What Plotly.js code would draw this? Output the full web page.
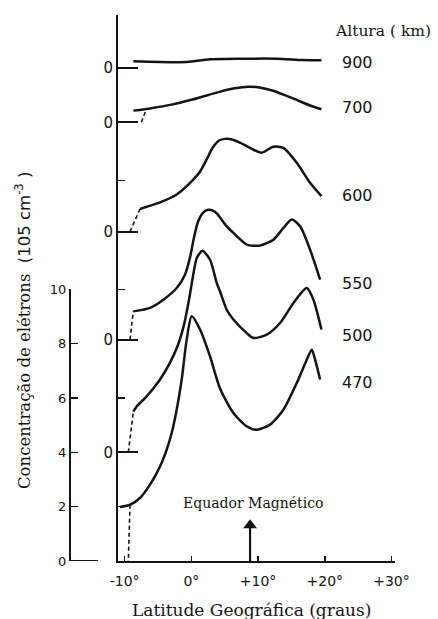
<!DOCTYPE html>
<html>
<head>
<meta charset="utf-8">
<script src="https://cdn.plot.ly/plotly-3.0.1.min.js"></script>
<style>html,body{margin:0;padding:0;background:#fff;}#chart{width:438px;height:619px;}</style>
</head>
<body>
<div id="chart"></div>
<script>
// Altitudes (km) and baseline offsets of each curve on the stacked axis (10^5 cm^-3 units)
const altitudes = ["470", "500", "550", "600", "700", "900"];
const offsets = [0, 4.0, 8.15, 12.12, 16.15, 18.16];

// Geographic latitude (deg) and electron concentration (10^5 cm^-3) per altitude
const lat470 = [-10.7, -9.2, -7.7, -6.2, -4.7, -3.7, -2.95, -2.2, -1.45, -0.7, 0.05, 1.3, 2.8, 4.3, 6.3, 8.3, 9.8, 11.8, 13.8, 15.8, 17.3, 18.05, 18.55, 19.3];
const n470   = [1.99, 2.07, 2.32, 2.81, 3.48, 4.10, 4.71, 5.57, 6.68, 8.15, 9.01, 8.52, 7.53, 6.35, 5.45, 4.96, 4.83, 5.02, 5.57, 6.55, 7.41, 7.78, 7.41, 6.68];

const lat500 = [-8.7, -8.2, -6.7, -4.7, -3.2, -2.0, -1.1, -0.35, 0.28, 0.84, 1.66, 2.8, 3.8, 4.3, 5.3, 6.3, 8.3, 9.3, 11.3, 13.3, 15.3, 17.3, 18.3, 19.5];
const n500   = [1.50, 1.69, 2.06, 2.68, 3.30, 3.96, 4.70, 5.62, 6.54, 7.17, 7.42, 7.09, 6.24, 5.92, 5.25, 4.89, 4.39, 4.21, 4.33, 4.76, 5.50, 6.05, 5.62, 4.52];

const lat550 = [-8.7, -6.2, -4.2, -2.2, -0.96, -0.21, 0.39, 0.99, 1.74, 2.49, 3.24, 3.84, 5.3, 6.3, 8.3, 10.25, 12.3, 13.8, 15.05, 16.3, 17.8, 19.3];
const n550   = [1.04, 1.17, 1.47, 1.90, 2.39, 3.02, 3.75, 4.34, 4.67, 4.78, 4.75, 4.64, 4.17, 3.93, 3.50, 3.46, 3.68, 4.11, 4.42, 4.17, 3.31, 2.21];

const lat600 = [-7.7, -4.7, -2.2, 0.28, 1.29, 2.29, 2.94, 3.54, 4.14, 5.04, 6.09, 7.29, 8.79, 10.54, 12.28, 13.8, 15.8, 17.8, 19.5];
const n600   = [0.84, 1.08, 1.37, 1.92, 2.21, 2.66, 2.99, 3.21, 3.36, 3.42, 3.40, 3.28, 3.09, 2.91, 3.13, 3.09, 2.54, 1.80, 1.31];

const lat700 = [-8.7, -6.0, -3.0, 0.0, 2.0, 4.2, 6.5, 8.5, 10.0, 12.0, 14.0, 16.0, 18.0, 19.5];
const n700   = [0.43, 0.52, 0.65, 0.83, 0.97, 1.12, 1.25, 1.31, 1.29, 1.18, 1.00, 0.80, 0.60, 0.48];

const lat900 = [-8.7, -0.7, 2.8, 7.7, 12.8, 16.7, 19.5];
const n900   = [0.24, 0.21, 0.31, 0.33, 0.33, 0.28, 0.27];

// Dashed extrapolations at the start of each curve
const dashLat = [[-9.2, -9.45], [-9.45, -8.7], [-9.2, -8.7], [-9.2, -7.7], [-7.5, -6.8]];
const dashVal = [[2.07, 0], [0, 1.50], [0, 1.04], [0, 0.84], [0, 0.45]];

// Axis ticks and magnetic equator marker
const latTicks = [-10, 0, 10, 20, 30];
const latTickText = ["-10°", "0°", "+10°", "+20°", "+30°"];
const scaleTicks = [0, 2, 4, 6, 8, 10];
const magEquatorLat = 8.8;
const magArrowVals = [0, 1.32];

const lats = [lat470, lat500, lat550, lat600, lat700, lat900];
const vals = [n470, n500, n550, n600, n700, n900];

const ink = "#141414";
const traces = [];
lats.forEach((la, i) => {
  traces.push({
    x: la, y: vals[i].map(v => v + offsets[i]),
    type: "scatter", mode: "lines",
    line: {color: ink, width: 2.5, shape: "spline", smoothing: 0.7},
    hoverinfo: "skip", showlegend: false
  });
});
dashLat.forEach((la, i) => {
  traces.push({
    x: la, y: dashVal[i].map(v => v + offsets[i]),
    type: "scatter", mode: "lines",
    line: {color: ink, width: 1.6, dash: "4px,3px"},
    hoverinfo: "skip", showlegend: false
  });
});
// magnetic equator arrow: shaft and head
traces.push({
  x: [magEquatorLat, magEquatorLat], y: magArrowVals,
  type: "scatter", mode: "lines",
  line: {color: ink, width: 2.2},
  hoverinfo: "skip", showlegend: false
});
traces.push({
  x: [magEquatorLat], y: [magArrowVals[1]],
  type: "scatter", mode: "markers",
  marker: {symbol: "triangle-up", size: 12, color: ink, line: {width: 0}},
  hoverinfo: "skip", showlegend: false
});
// invisible trace to activate the auxiliary scale axis
traces.push({x: [0], y: [0], xaxis: "x", yaxis: "y2", mode: "markers",
  marker: {opacity: 0}, hoverinfo: "skip", showlegend: false, type: "scatter"});

const W = 438, H = 619;
const mL = 0, mR = 43, mT = 15, mB = 58;
const pw = W - mL - mR;
const ph = H - mT - mB;
const axisPx = 118;      // main vertical axis position
const scalePx = 70;      // auxiliary scale position
const yMax = 20.1;
const px = p => (p - mL) / pw;
const py = p => (H - mB - p) / ph;

const serif = "DejaVu Serif";
const sans = "DejaVu Sans";

const annotations = [];
const labelY = [382, 335, 283, 195, 108, 62];
altitudes.forEach((a, i) => {
  annotations.push({x: px(357), y: py(labelY[i]), xref: "paper", yref: "paper", text: a, showarrow: false,
    font: {family: sans, size: 16, color: ink}, xanchor: "center", yanchor: "middle"});
});
annotations.push({x: px(383), y: py(31), xref: "paper", yref: "paper", text: "Altura ( km)", showarrow: false,
  font: {family: serif, size: 15.5, color: ink}, xanchor: "center", yanchor: "middle"});
annotations.push({x: 9.2, y: 2.14, xref: "x", yref: "y", text: "Equador Magnético", showarrow: false,
  font: {family: serif, size: 14, color: ink}, xanchor: "center", yanchor: "middle"});
annotations.push({x: px(252), y: py(610), xref: "paper", yref: "paper", text: "Latitude Geográfica (graus)", showarrow: false,
  font: {family: serif, size: 17, color: ink}, xanchor: "center", yanchor: "middle"});
annotations.push({x: px(23), y: py(331), xref: "paper", yref: "paper", textangle: -90,
  text: "Concentração de elétrons  <span style='font-family:DejaVu Sans'>(105 cm<sup>-3</sup> )</span>",
  showarrow: false, font: {family: serif, size: 16.5, color: ink}, xanchor: "center", yanchor: "middle"});

const layout = {
  width: W, height: H,
  margin: {l: mL, r: mR, t: mT, b: mB, pad: 0},
  paper_bgcolor: "#fff", plot_bgcolor: "rgba(0,0,0,0)",
  showlegend: false,
  xaxis: {
    domain: [px(axisPx), 1],
    range: [-11.0, 30.53],
    showgrid: false, zeroline: false,
    showline: true, linewidth: 2, linecolor: ink,
    ticks: "inside", ticklen: 5, tickwidth: 1.5, tickcolor: ink,
    tickvals: latTicks, ticktext: latTickText,
    tickfont: {family: sans, size: 14, color: ink},
    ticklabelstandoff: 6,
    anchor: "y", fixedrange: true
  },
  yaxis: {
    domain: [0, 1],
    range: [0, yMax],
    showgrid: false, zeroline: false,
    showline: true, linewidth: 2, linecolor: ink,
    ticks: "inside", ticklen: 20, tickwidth: 2, tickcolor: ink,
    tickvals: offsets.slice(1), ticktext: offsets.slice(1).map(() => "0"),
    tickfont: {family: sans, size: 15, color: ink},
    minor: {tickvals: [2, 6, 10, 14], ticks: "inside", ticklen: 7, tickwidth: 1.5, tickcolor: ink},
    anchor: "x", fixedrange: true
  },
  yaxis2: {
    domain: [0, 10 / yMax],
    range: [0, 10],
    anchor: "free", position: px(scalePx), side: "left",
    showgrid: false, zeroline: false,
    showline: true, linewidth: 2, linecolor: ink,
    ticks: "inside", ticklen: 7, tickwidth: 1.5, tickcolor: ink,
    tickvals: scaleTicks, ticktext: scaleTicks.map(String),
    tickfont: {family: sans, size: 13, color: ink},
    fixedrange: true
  },
  shapes: [
    {type: "line", xref: "paper", yref: "y", x0: px(scalePx), x1: px(98), y0: 0, y1: 0,
     line: {color: ink, width: 2}}
  ],
  annotations: annotations
};

Plotly.newPlot("chart", traces, layout, {staticPlot: true, displayModeBar: false});
</script>
</body>
</html>
